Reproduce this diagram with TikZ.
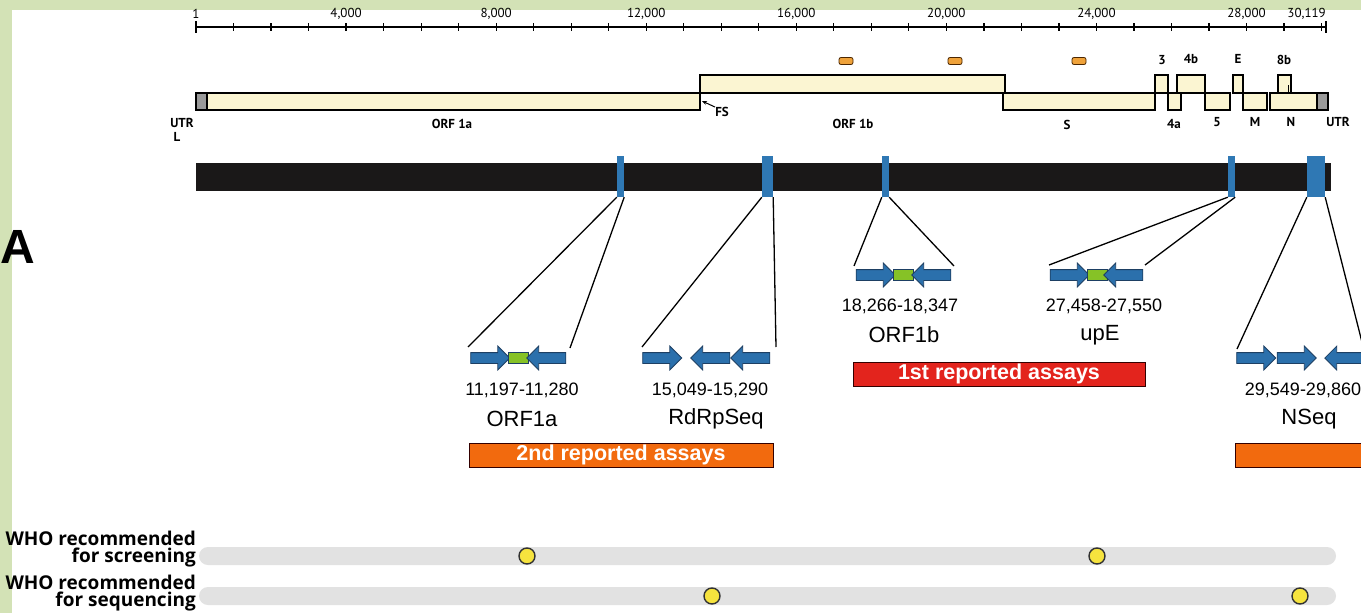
\documentclass[tikz,border=0pt]{standalone}
\usepackage{fontspec}
\setmainfont{Liberation Sans}
\newfontfamily\mapfont{PT Sans}
\newfontfamily\whofont{Open Sans}
\usetikzlibrary{shapes.arrows,arrows.meta,positioning}

\definecolor{bggreen}{HTML}{D3E2B6}
\definecolor{cream}{HTML}{FBF5D2}
\definecolor{utrgrey}{HTML}{9A9A9A}
\definecolor{genomebar}{HTML}{1A1818}
\definecolor{siteblue}{HTML}{2F78B4}
\definecolor{primblue}{HTML}{2B70AC}
\definecolor{primline}{HTML}{1D3F63}
\definecolor{probegreen}{HTML}{86C226}
\definecolor{assayred}{HTML}{E3241D}
\definecolor{assayorange}{HTML}{F26A0E}
\definecolor{pillorange}{HTML}{EFA23A}
\definecolor{trackgrey}{HTML}{E2E2E2}
\definecolor{dotyellow}{HTML}{F6E33E}

\tikzset{
  gene/.style={draw, fill=cream, line width=1.1pt},
  utr/.style={draw, fill=utrgrey, line width=1.1pt},
  maplab/.style={font={\mapfont\bfseries\fontsize{13}{15}\selectfont}, inner sep=0pt},
  rulerlab/.style={font={\mapfont\fontsize{13}{15}\selectfont}, inner sep=0pt},
  pill/.style={draw=black!70!orange, fill=pillorange, rounded corners=2pt, line width=0.8pt,
               minimum width=14pt, minimum height=7pt, inner sep=0pt},
  site/.style={fill=siteblue, minimum height=41pt, inner sep=0pt},
  link/.style={line width=1.3pt},
  fwd/.style={single arrow, draw=primline, fill=primblue, line width=0.8pt,
              minimum height=39pt, minimum width=23pt, single arrow head extend=6.5pt,
              inner xsep=0pt, inner ysep=5pt},
  rev/.style={fwd, shape border rotate=180},
  probe/.style={draw=primline, fill=probegreen, line width=0.8pt,
                minimum width=20pt, minimum height=11pt, inner sep=0pt},
  numlab/.style={font=\fontsize{18}{20}\selectfont, inner sep=0pt},
  namelab/.style={font=\fontsize{22}{24}\selectfont, inner sep=0pt},
  assay/.style={draw=black!80!red, line width=1pt, text=white, inner sep=0pt,
                font={\bfseries\fontsize{21.5}{23}\selectfont}},
  wholab/.style={font={\whofont\bfseries\fontsize{19}{17.5}\selectfont}, align=right, inner sep=0pt},
  dot/.style={circle, draw=black!80, fill=dotyellow, line width=1.4pt, minimum size=16pt, inner sep=0pt}
}

\begin{document}
\begin{tikzpicture}[x=1pt,y=-1pt]
    \def\W{1361}
    \def\H{613}
    \def\xo{196}
    \def\dk{37.52}
    % rows of the genome map
    \def\yt{75}
    \def\ym{93}
    \def\yb{110}

% --------------------
% Background and panel letter
% --------------------
\useasboundingbox (0,0) rectangle (\W,\H);
\fill[bggreen] (0,0) rectangle (\W,\H);
\fill[white] (12,10) rectangle (\W,\H);
\node[font={\bfseries\fontsize{48}{48}\selectfont}, anchor=west, inner sep=0pt] (panel) at (0,247) {A};

% --------------------
% Ruler
% --------------------
\draw[line width=2pt] (\xo,27) -- (1326,27);
\foreach \k in {0,...,30}
    \draw[line width=1.2pt] (\xo+\k*\dk,23) -- ++(0,8);
\draw[line width=1.2pt] (\xo,21) -- ++(0,12);
\draw[line width=1.2pt] (1326,21) -- ++(0,12);
\foreach \k/\t in {0/1, 4/{4,000}, 8/{8,000}, 12/{12,000}, 16/{16,000}, 20/{20,000}, 24/{24,000}, 28/{28,000}}
    \node[rulerlab] (r\k) at (\xo+\k*\dk,14) {\t};
\node[rulerlab, anchor=east] (rend) at (1326,14) {30,119};

% --------------------
% Genome map
% --------------------
\draw[utr]  (\xo,\ym) rectangle (207,\yb);
\draw[gene] (207,\ym) rectangle (700,\yb);
\draw[gene] (700,\yt) rectangle (1005,\ym);
\draw[gene] (1003,\ym) rectangle (1155,\yb);
\draw[gene] (1155,\yt) rectangle (1168,\ym);
\draw[gene] (1168,\ym) rectangle (1181,\yb);
\draw[gene] (1177,\yt) rectangle (1205,\ym);
\draw[gene] (1205,\ym) rectangle (1230,\yb);
\draw[gene] (1233,\yt) rectangle (1243,\ym);
\draw[gene] (1243,\ym) rectangle (1267,\yb);
\draw[gene] (1270,\ym) rectangle (1317,\yb);
\draw[gene] (1278,\yt) rectangle (1291,\ym);
\draw[line width=1pt] (1288,85) -- (1288,\ym);
\draw[utr]  (1317,\ym) rectangle (1328,\yb);

\node[pill] (pl1) at (846,61) {};
\node[pill] (pl2) at (955,61) {};
\node[pill] (pl3) at (1079,61) {};

\node[maplab] (g3)  at (1162,60) {3};
\node[maplab] (g4b) at (1191,59) {4b};
\node[maplab] (gE)  at (1238,59) {E};
\node[maplab] (g8b) at (1284,60) {8b};

\node[maplab] (utrl) at (182,123) {UTR};
\node[maplab] (utrll) at (177,137) {L};
\node[maplab] (orfa) at (452,124) {ORF 1a};
\node[maplab] (orfb) at (853,124) {ORF 1b};
\node[maplab] (gS)   at (1067,125) {S};
\node[maplab] (g4a)  at (1174,124) {4a};
\node[maplab] (g5)   at (1217,122) {5};
\node[maplab] (gM)   at (1255,122) {M};
\node[maplab] (gN)   at (1291,122) {N};
\node[maplab] (utrr) at (1338,122) {UTR};

% frame shift
\node[maplab] (fs) at (722,112) {FS};
\coordinate (fstip) at (702,101);
\draw[line width=1pt, -{Stealth[length=5pt,width=4pt]}] (fs.north west) -- (fstip);

% --------------------
% Genome bar with target sites
% --------------------
\fill[genomebar] (\xo,163) rectangle (1331,191);
\node[site, minimum width=7pt]  (mk1) at (620.5,176.5) {};
\node[site, minimum width=11pt] (mk2) at (767.5,176.5) {};
\node[site, minimum width=7pt]  (mk3) at (885.5,176.5) {};
\node[site, minimum width=7pt]  (mk4) at (1231.5,176.5) {};
\node[site, minimum width=18pt] (mk5) at (1316,176.5) {};

% --------------------
% Primer / probe sets
% --------------------
% ORF1a
\node[fwd]   (a1) at (487.5,358) {};
\node[probe] (a2) at (518.5,358) {};
\node[rev]   (a3) at (549,358) {};
\coordinate (a1l) at (468,347);
\coordinate (a1r) at (570,348);
\node[numlab]  (a1n) at (522,390) {11,197-11,280};
\node[namelab] (a1t) at (522,419) {ORF1a};

% RdRpSeq
\node[fwd] (b1) at (659.5,358) {};
\node[rev] (b2) at (713,358) {};
\node[rev] (b3) at (753,358) {};
\coordinate (b1l) at (642,347);
\coordinate (b1r) at (776,347);
\node[numlab]  (b1n) at (710,390) {15,049-15,290};
\node[namelab] (b1t) at (716,419) {RdRpSeq};

% ORF1b
\node[fwd]   (c1) at (873,275) {};
\node[probe] (c2) at (903,275) {};
\node[rev]   (c3) at (934,275) {};
\coordinate (c1l) at (854,266);
\coordinate (c1r) at (954,266);
\node[numlab]  (c1n) at (900,306) {18,266-18,347};
\node[namelab] (c1t) at (904,335) {ORF1b};

% upE
\node[fwd]   (d1) at (1067,275) {};
\node[probe] (d2) at (1097,275) {};
\node[rev]   (d3) at (1126,275) {};
\coordinate (d1l) at (1049,265);
\coordinate (d1r) at (1145,265);
\node[numlab]  (d1n) at (1104,306) {27,458-27,550};
\node[namelab] (d1t) at (1100,335) {upE};

% NSeq
\node[fwd] (e1) at (1253.5,358) {};
\node[fwd] (e2) at (1294,358) {};
\node[rev] (e3) at (1347,358) {};
\coordinate (e1l) at (1237,349);
\coordinate (e1r) at (1364,350);
\node[numlab]  (e1n) at (1303,390) {29,549-29,860};
\node[namelab] (e1t) at (1309,419) {NSeq};

% connectors
\draw[link] (mk1.south west) -- (a1l);
\draw[link] (mk1.south east) -- (a1r);
\draw[link] (mk2.south west) -- (b1l);
\draw[link] (mk2.south east) -- (b1r);
\draw[link] (mk3.south west) -- (c1l);
\draw[link] (mk3.south east) -- (c1r);
\draw[link] (mk4.south west) -- (d1l);
\draw[link] (mk4.south east) -- (d1r);
\draw[link] (mk5.south west) -- (e1l);
\draw[link] (mk5.south east) -- (e1r);

% --------------------
% Assay bars
% --------------------
\node[assay, fill=assayred, minimum width=292pt, minimum height=24pt] (first) at (999,374) {1st reported assays};
\node[assay, fill=assayorange, minimum width=304pt, minimum height=24pt] (second) at (621,455) {2nd reported assays};
\node[assay, fill=assayorange, minimum width=140pt, minimum height=24pt, anchor=west] (third) at (1235,455) {};

% --------------------
% WHO tracks
% --------------------
\fill[trackgrey, rounded corners=9pt] (199,547) rectangle (1336,565);
\fill[trackgrey, rounded corners=9pt] (199,587) rectangle (1336,605);
\node[wholab, anchor=east] (who1) at (196,549) {WHO recommended\\for screening};
\node[wholab, anchor=east] (who2) at (196,593) {WHO recommended\\for sequencing};
\node[dot] (s1) at (527,556) {};
\node[dot] (s2) at (1097,556) {};
\node[dot] (q1) at (712,596) {};
\node[dot] (q2) at (1300,596) {};

\end{tikzpicture}
\end{document}
